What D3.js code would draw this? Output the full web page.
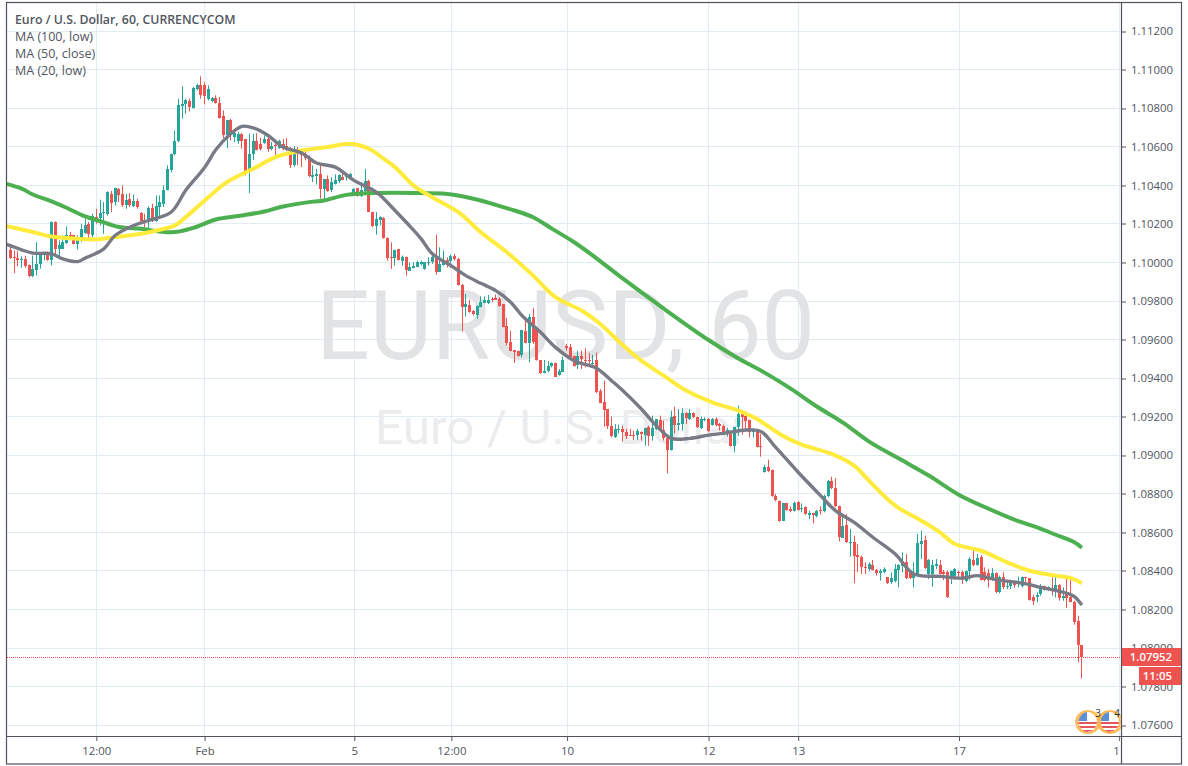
<!DOCTYPE html>
<html><head><meta charset="utf-8">
<script src="https://cdn.jsdelivr.net/npm/d3@7/dist/d3.min.js"></script>
<style>
html,body{margin:0;padding:0;background:#fff;overflow:hidden}
svg{display:block}
text{font-family:"Open Sans","Noto Sans",sans-serif}
</style></head><body>
<svg id="c" width="1188" height="766"></svg>
<script>
// prices are stored as points: price = 1 + points / 100000
const openPts=[10063,10028,10025,10014,10019,9985,9928,9959,9990,10042,10054,10011,10210,10068,10071,10101,10141,10141,10097,10115,10153,10201,10141,10236,10231,10256,10253,10357,10314,10383,10353,10301,10331,10293,10317,10258,10222,10210,10284,10218,10288,10305,
10374,10478,10561,10630,10813,10820,10838,10803,10902,10921,10921,10846,10838,10851,10827,10758,10663,10737,10651,10633,10668,10639,10478,10561,10628,10616,10620,10642,10590,10611,10594,10613,10606,10587,10504,10587,10573,10561,10547,10445,10448,10457,10383,10434,10374,
10409,10422,10446,10443,10446,
10351,10386,10347,10370,10425,10264,10192,10223,10230,10128,10031,10022,10069,10010,10031,9958,9972,9979,9993,9967,10001,10001,10036,9953,9989,10014,10007,10036,10019,9886,9768,9782,9751,9730,9768,9789,9789,9811,9815,9811,9783,9673,9586,9546,9543,9519,9647,9581,9719,9655,9495,9427,9436,9463,9477,9418,9434,9567,9560,9515,9469,9517,9496,9495,9477,
9496,9332,9278,9240,9154,9097,9133,9137,9123,9105,9105,9104,9121,9105,9145,9102,9137,9183,9131,9090,9029,9206,9159,9162,9221,9188,9221,9197,9142,9187,9188,9157,9187,9162,9154,9114,9111,9050,9145,9214,9204,9185,9119,9128,9050,
8912,8941,8924,8787,8765,8661,8753,8721,8713,8756,8721,8730,8692,8701,8683,8716,8709,8787,8868,8832,8739,8571,8638,8545,
8552,8485,8474,8422,8410,8433,8407,8388,8393,8367,8341,8350,8407,8424,8445,8393,8363,8384,8540,8562,8384,8384,8427,8433,8393,8393,8363,8376,8396,8396,8346,8402,8457,8433,8471,8393,8388,8358,8389,8289,8370,8315,8324,8337,8332,8324,8370,8363,8267,8267,8280,8320,8306,8310,8294,8327,8258,8292,8267,8241,8139,8017];
const highPts=[10083,10063,10059,10032,10035,9990,10037,10106,10054,10054,10057,10213,10213,10115,10141,10187,10158,10144,10141,10201,10227,10210,10253,10279,10326,10314,10369,10371,10388,10386,10400,10357,10360,10353,10331,10262,10253,10291,10305,10348,10348,10400,
10504,10564,10685,10850,10914,10850,10850,10910,10928,10966,10936,10919,10858,10867,10858,10789,10737,10746,10677,10677,10671,10642,10668,10668,10671,10647,10659,10654,10625,10625,10637,10642,10646,10599,10604,10599,10585,10582,10556,10504,10486,10504,10434,10452,10443,
10457,10457,10469,10460,10465,
10386,10386,10417,10486,10429,10264,10261,10240,10235,10131,10105,10067,10071,10036,10031,10001,10001,10010,10010,10001,10027,10053,10145,10079,10062,10027,10041,10045,10024,9889,9837,9806,9754,9777,9825,9825,9832,9820,9834,9820,9783,9713,9647,9546,9543,9650,9707,9733,9763,9655,9495,9495,9488,9482,9481,9448,9512,9578,9578,9517,9543,9543,9555,9531,9522,
9534,9344,9387,9240,9201,9162,9159,9154,9137,9137,9128,9137,9124,9142,9154,9206,9188,9206,9180,9097,9232,9252,9240,9244,9223,9240,9223,9201,9201,9197,9194,9194,9197,9168,9159,9142,9119,9149,9258,9232,9227,9185,9142,9128,9111,
8951,8977,8927,8799,8765,8753,8753,8735,8761,8761,8751,8735,8713,8702,8716,8735,8796,8872,8889,8882,8739,8687,8695,8618,
8583,8540,8479,8445,8445,8457,8410,8410,8419,8367,8393,8436,8436,8497,8488,8402,8445,8592,8609,8583,8462,8457,8462,8457,8405,8402,8402,8415,8402,8402,8402,8471,8509,8488,8483,8419,8410,8415,8393,8376,8393,8353,8353,8346,8370,8370,8370,8363,8277,8289,8332,8324,8320,8367,8370,8332,8315,8363,8358,8246,8168,8017];
const lowPts=[10019,9945,9980,9973,9973,9924,9924,9933,9968,10011,10009,9985,10037,10016,10071,10097,10128,10094,10068,10106,10149,10115,10132,10201,10192,10149,10244,10262,10296,10314,10288,10279,10288,10288,10279,10215,10184,10166,10210,10210,10227,10288,
10374,10469,10556,10625,10746,10772,10784,10798,10893,10850,10820,10841,10832,10824,10746,10646,10594,10633,10625,10616,10590,10452,10360,10533,10582,10582,10616,10573,10582,10556,10590,10582,10578,10490,10495,10504,10495,10530,10443,10417,10405,10331,10327,10367,10365,
10405,10412,10430,10425,10443,
10347,10342,10339,10365,10261,10183,10145,10192,10123,10010,9967,9984,10010,9984,9932,9958,9970,9976,9984,9962,9984,9993,9937,9953,9984,9975,9972,10010,9880,9642,9719,9740,9725,9707,9768,9789,9785,9794,9806,9771,9664,9569,9540,9479,9512,9508,9581,9482,9578,9491,9422,9425,9431,9456,9408,9413,9431,9543,9508,9460,9448,9448,9456,9465,9470,
9323,9270,9149,9137,9093,9090,9114,9071,9085,9102,9079,9079,9076,9050,9050,9076,9131,9124,9076,8906,9024,9114,9128,9128,9162,9183,9194,9142,9137,9176,9119,9154,9149,9128,9114,9097,9045,9015,9102,9107,9131,9093,9093,9041,8993,
8910,8912,8785,8761,8656,8659,8713,8704,8708,8713,8704,8692,8669,8647,8678,8692,8704,8782,8825,8730,8554,8571,8545,8474,
8336,8393,8384,8384,8398,8402,8376,8350,8388,8332,8332,8341,8315,8393,8358,8358,8315,8376,8462,8410,8358,8318,8410,8381,8353,8260,8332,8353,8363,8332,8341,8353,8424,8427,8350,8346,8315,8350,8284,8284,8306,8306,8306,8315,8315,8315,8341,8246,8223,8237,8272,8298,8298,8272,8263,8246,8246,8208,8237,8121,7926,7843];
const closePts=[10023,10023,10014,10018,9980,9928,9968,9993,10045,10045,10011,10210,10068,10089,10106,10141,10134,10097,10118,10172,10196,10146,10239,10210,10258,10262,10365,10310,10388,10348,10296,10326,10296,10319,10288,10218,10206,10284,10215,10291,10314,10378,
10483,10564,10633,10815,10824,10841,10806,10905,10921,10867,10864,10898,10851,10827,10751,10663,10737,10673,10673,10665,10633,10474,10564,10633,10585,10590,10642,10587,10604,10604,10633,10590,10587,10507,10587,10561,10559,10543,10448,10453,10457,10383,10434,10370,10417,
10426,10452,10430,10448,10460,
10382,10347,10377,10422,10261,10192,10226,10235,10128,10024,10022,10067,10015,10027,9963,9979,9984,10005,10001,10001,10005,10031,9953,9993,10010,9988,10036,10019,9884,9768,9785,9745,9732,9777,9794,9808,9808,9808,9808,9777,9668,9581,9543,9538,9517,9650,9581,9719,9586,9495,9425,9439,9465,9477,9408,9439,9495,9555,9512,9465,9517,9500,9493,9491,9479,
9327,9273,9237,9150,9099,9137,9137,9119,9102,9103,9099,9124,9109,9142,9102,9142,9187,9128,9088,9029,9201,9159,9166,9218,9192,9221,9197,9145,9188,9190,9128,9187,9159,9150,9119,9131,9050,9149,9214,9201,9180,9119,9137,9045,9041,
8938,8917,8787,8770,8659,8753,8718,8711,8753,8716,8725,8695,8699,8688,8713,8713,8791,8868,8829,8735,8574,8635,8548,8552,
8479,8474,8419,8414,8436,8407,8389,8402,8410,8337,8363,8410,8431,8445,8363,8362,8388,8545,8554,8415,8457,8431,8436,8384,8384,8267,8402,8410,8389,8355,8398,8462,8431,8466,8353,8353,8353,8389,8289,8370,8315,8324,8344,8329,8337,8367,8363,8251,8246,8277,8324,8301,8315,8301,8327,8258,8272,8258,8241,8133,8017,7952];

const ma100Idx=[-1,3,6,11,15,20,24,29,35,40,44,49,55,62,68,73,81,84,90,99,108,117,121,126,130,135,140,145,151,156,163,175,187,195,202,209,216,223,230,238,246,254,262,270,275,280,285,287];
const ma100Pts=[10408,10383,10353,10317,10284,10239,10215,10184,10175,10161,10158,10180,10223,10244,10265,10291,10316,10322,10351,10361,10361,10356,10344,10322,10299,10270,10235,10176,10105,10036,9932,9761,9598,9502,9429,9346,9253,9170,9071,8983,8895,8796,8723,8658,8626,8588,8549,8520];
const ma50Idx=[-1,6,11,16,23,28,35,40,44,48,53,58,65,71,78,85,91,96,100,103,108,113,120,126,133,140,146,153,158,163,169,175,181,188,195,200,206,212,220,226,230,237,244,249,253,260,267,273,280,284,287];
const ma50Pts=[10189,10158,10135,10126,10120,10132,10149,10170,10192,10253,10339,10417,10486,10547,10581,10599,10616,10590,10538,10495,10399,10339,10261,10157,10053,9932,9820,9751,9681,9590,9491,9413,9336,9275,9232,9188,9111,9055,9007,8946,8868,8739,8661,8600,8540,8505,8445,8401,8376,8363,8337];
const ma20Idx=[-1,3,6,11,14,18,20,25,28,33,37,43,47,52,55,59,62,65,69,73,78,82,87,92,98,103,106,110,113,118,122,126,130,134,137,142,146,151,157,161,164,169,173,177,182,187,191,197,201,205,211,217,221,226,231,237,242,249,255,259,264,271,276,283,285,287];
const ma20Pts=[10094,10066,10049,10045,10019,10005,10023,10071,10140,10192,10218,10261,10376,10493,10585,10668,10706,10699,10659,10599,10568,10516,10495,10426,10365,10270,10209,10123,10045,9984,9932,9892,9854,9794,9725,9638,9560,9491,9452,9387,9336,9240,9154,9088,9088,9105,9114,9131,9124,9041,8912,8791,8713,8652,8575,8488,8384,8372,8363,8376,8355,8337,8315,8284,8267,8223];

const priceTicks=[1.112,1.11,1.108,1.106,1.104,1.102,1.1,1.098,1.096,1.094,1.092,1.09,1.088,1.086,1.084,1.082,1.08,1.078,1.076];
const timeTickIdx=[23,52,92.1,118.1,149.1,187,211,254.1,297];
const timeTickLabels=["12:00","Feb","5","12:00","10","12","13","17","18"];
const legendLines=["MA (100, low)","MA (50, close)","MA (20, low)"];
const chartTitle="Euro / U.S. Dollar, 60, CURRENCYCOM";
const lastPrice=1.07952, countdown="11:05";
const GREEN="#26a69a",RED="#ef5350",GRID="#e1ecf2",BORDER="#50535e",TEXT="#4f5560";

const toPrice=p=>1+p/100000;
const x=d3.scaleLinear().domain([0,287]).range([10.5,10.5+287*3.733]);
const y=d3.scaleLinear().domain([1.076,1.112]).range([725.2,31.2]);
const col=v=>Math.floor(x(v));
const svg=d3.select("#c");

const defs=svg.append("defs");
defs.append("clipPath").attr("id","plot").append("rect").attr("x",7).attr("y",3).attr("width",1114).attr("height",733);
defs.append("clipPath").attr("id","timeclip").append("rect").attr("x",7).attr("y",0).attr("width",1113).attr("height",27);

// grid
const plot=svg.append("g").attr("clip-path","url(#plot)");
plot.append("g").selectAll("line").data(priceTicks).join("line")
 .attr("x1",7).attr("x2",1121).attr("y1",d=>Math.floor(y(d))+.5).attr("y2",d=>Math.floor(y(d))+.5)
 .attr("stroke",GRID).attr("stroke-width",1);
plot.append("g").selectAll("line").data(timeTickIdx).join("line")
 .attr("x1",d=>col(d)+.5).attr("x2",d=>col(d)+.5).attr("y1",3).attr("y2",737)
 .attr("stroke",GRID).attr("stroke-width",1);

// watermark
plot.append("text").attr("x",316).attr("y",359).attr("textLength",499).attr("lengthAdjust","spacingAndGlyphs")
 .attr("font-size",97).attr("fill","#e2e3e5").style("font-family","Roboto,sans-serif").text("EURUSD, 60");
plot.append("text").attr("x",375).attr("y",444).attr("textLength",373).attr("lengthAdjust","spacingAndGlyphs")
 .attr("font-size",49).attr("fill","#ebecee").style("font-family","Roboto,sans-serif").text("Euro / U.S. Dollar");

// candles
const candles=d3.range(openPts.length).map(i=>({i,o:toPrice(openPts[i]),h:toPrice(highPts[i]),l:toPrice(lowPts[i]),c:toPrice(closePts[i])}));
const cg=plot.append("g");
cg.selectAll("line").data(candles).join("line")
 .attr("x1",d=>col(d.i)+.5).attr("x2",d=>col(d.i)+.5)
 .attr("y1",d=>y(d.h)).attr("y2",d=>y(d.l))
 .attr("stroke",d=>d.c>=d.o?GREEN:RED).attr("stroke-width",1);
cg.selectAll("rect").data(candles).join("rect")
 .attr("x",d=>col(d.i)-1).attr("width",3)
 .attr("y",d=>Math.round(y(Math.max(d.o,d.c))))
 .attr("height",d=>Math.max(1,Math.round(y(Math.min(d.o,d.c)))-Math.round(y(Math.max(d.o,d.c)))))
 .attr("fill",d=>d.c>=d.o?GREEN:RED);

// moving averages
const line=d3.line().x(d=>x(d[0])).y(d=>y(toPrice(d[1]))).curve(d3.curveCatmullRom.alpha(.5));
const series=[[ma100Idx,ma100Pts,"#4caf50",4],[ma50Idx,ma50Pts,"#ffeb3b",4],[ma20Idx,ma20Pts,"#787b86",3.4]];
plot.append("g").selectAll("path").data(series).join("path")
 .attr("d",s=>line(s[0].map((v,k)=>[v,s[1][k]])))
 .attr("fill","none").attr("stroke",s=>s[2]).attr("stroke-width",s=>s[3]).attr("stroke-linejoin","round").attr("stroke-linecap","butt");

// last price line
plot.append("line").attr("x1",7).attr("x2",1121).attr("y1",Math.floor(y(lastPrice))+.5).attr("y2",Math.floor(y(lastPrice))+.5)
 .attr("stroke",RED).attr("stroke-width",1).attr("stroke-dasharray","1 1");

// event flags
const flagData=[{cx:1109,cy:722,r:10,t:"4",tx:1117},{cx:1087,cy:722,r:10,t:"3",tx:1098}];
const fg=plot.append("g");
flagData.forEach((f,k)=>{
  const id="fl"+k;
  defs.append("clipPath").attr("id",id).append("circle").attr("cx",f.cx).attr("cy",f.cy).attr("r",f.r);
  const g=fg.append("g");
  g.append("circle").attr("cx",f.cx).attr("cy",f.cy).attr("r",f.r).attr("fill","#fff");
  const st=g.append("g").attr("clip-path",`url(#${id})`);
  [0,4,8].forEach(o=>st.append("rect").attr("x",f.cx-f.r).attr("y",f.cy+o).attr("width",2*f.r).attr("height",2).attr("fill","#e5555e"));
  st.append("rect").attr("x",f.cx-f.r).attr("y",f.cy-f.r).attr("width",f.r).attr("height",f.r-1).attr("fill","#5b8fd6");
  g.append("circle").attr("cx",f.cx).attr("cy",f.cy).attr("r",f.r+1).attr("fill","none").attr("stroke","#ffb74d").attr("stroke-width",1.6);
  g.append("circle").attr("cx",f.cx+2).attr("cy",f.cy).attr("r",f.r+1).attr("fill","none").attr("stroke","#ffb74d").attr("stroke-width",1.2);
  g.append("text").attr("x",f.tx).attr("y",f.cy-5).attr("text-anchor","middle").attr("font-size",10).attr("fill","#333").text(f.t);
});

// legend
svg.append("text").attr("x",15).attr("y",24).attr("font-size",12.3).attr("font-weight",600).attr("fill",TEXT).text(chartTitle);
svg.append("g").selectAll("text").data(legendLines).join("text")
 .attr("x",15).attr("y",(d,i)=>41+i*17).attr("font-size",12.5).attr("fill",TEXT).text(d=>d);

// axes via d3
const yAxis=d3.axisRight(y).tickValues(priceTicks).tickFormat(d3.format(".5f")).tickSize(4).tickPadding(5);
const ya=svg.append("g").attr("transform","translate(1122,0)").call(yAxis);
ya.select(".domain").remove();
ya.selectAll("line").attr("stroke",BORDER).attr("y1",d=>Math.floor(y(d))+.5-y(d)).attr("y2",d=>Math.floor(y(d))+.5-y(d));
ya.selectAll("text").attr("font-size",11.4).attr("fill",TEXT).attr("font-family","'Open Sans',sans-serif");

const xAxis=d3.axisBottom(x).tickValues(timeTickIdx).tickFormat((d,i)=>timeTickLabels[i]).tickSize(4).tickPadding(6);
const xa=svg.append("g").attr("transform","translate(0,737)").attr("clip-path","url(#timeclip)").call(xAxis);
xa.select(".domain").remove();
xa.selectAll("line").attr("stroke",BORDER);
xa.selectAll("text").attr("font-size",11.4).attr("fill",TEXT).attr("font-family","'Open Sans',sans-serif");

// frames
svg.append("rect").attr("x",6.5).attr("y",2.5).attr("width",1175).attr("height",761.5).attr("fill","none").attr("stroke",BORDER).attr("stroke-width",1.2);
svg.append("line").attr("x1",1121.5).attr("x2",1121.5).attr("y1",3).attr("y2",764).attr("stroke",BORDER).attr("stroke-width",1.2);
svg.append("line").attr("x1",6).attr("x2",1181).attr("y1",736.5).attr("y2",736.5).attr("stroke",BORDER).attr("stroke-width",1.2);

// price + countdown labels
svg.append("rect").attr("x",1122).attr("y",648).attr("width",59).attr("height",18).attr("fill",RED);
svg.append("text").attr("x",1172).attr("y",661).attr("text-anchor","end").attr("font-size",11.4).attr("font-weight",600).attr("fill","#fff").text(d3.format(".5f")(lastPrice));
svg.append("rect").attr("x",1139).attr("y",667).attr("width",42).attr("height",18).attr("fill",RED);
svg.append("text").attr("x",1172).attr("y",680).attr("text-anchor","end").attr("font-size",11.4).attr("font-weight",600).attr("fill","#fff").text(countdown);
</script>
</body></html>
